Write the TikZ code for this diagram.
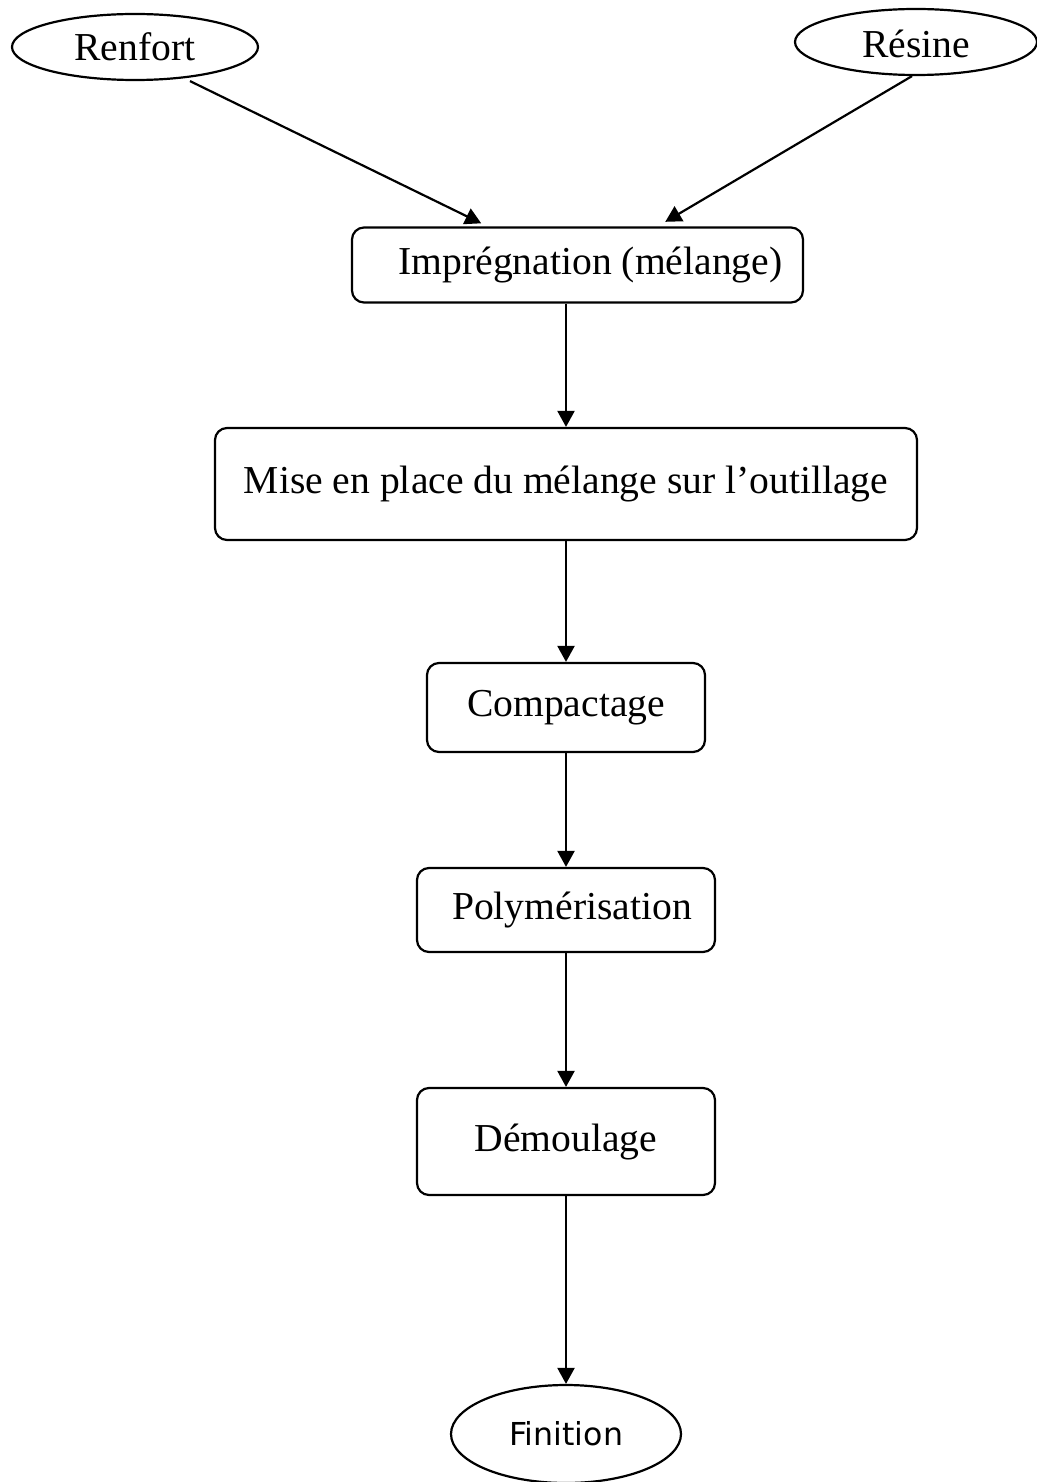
\documentclass[tikz,border=0pt]{standalone}
\usepackage{fontspec}
\setmainfont{Liberation Serif}
\newfontfamily\finfont{DejaVu Sans}
\usetikzlibrary{arrows.meta,shapes.geometric}

\begin{document}
\begin{tikzpicture}[x=0.5pt,y=-0.5pt,->,>={Triangle[length=8pt,width=8.5pt]},line width=1.1pt,
                    stage node/.style={rectangle,rounded corners=6pt,draw,inner sep=0pt,font=\fontsize{19.8}{23}\selectfont},
                    end node/.style={ellipse,draw,inner sep=0pt,font=\fontsize{19.8}{23}\selectfont}]
  \useasboundingbox (0,0) rectangle (1037,1482);
  \node[end node,minimum width=123pt,minimum height=33pt] (renfort) at (135,47) {Renfort};
  \node[end node,minimum width=121pt,minimum height=33pt] (resine) at (916,42) {\raisebox{-8pt}[0pt][0pt]{Résine}};
  \node[stage node,minimum width=225.5pt,minimum height=37.5pt] (impr) at (577.5,265) {\hspace{13pt}Imprégnation (mélange)};
  \node[stage node,minimum width=351pt,minimum height=56pt] (mise) at (566,484) {Mise en place du mélange sur l’outillage};
  \node[stage node,minimum width=139pt,minimum height=44.5pt] (compact) at (566,707.5) {Compactage};
  \node[stage node,minimum width=149pt,minimum height=42pt] (polym) at (566,910) {\hspace{6pt}Polymérisation};
  \node[stage node,minimum width=149pt,minimum height=53.5pt] (demoul) at (566,1141.5) {Démoulage};
  \node[end node,minimum width=115pt,minimum height=49pt,font=\finfont\fontsize{15.8}{19}\selectfont] (finition) at (566,1434) {Finition};

  \path
    ([xshift=27.5pt]renfort.south) edge[shorten >=3.5pt] ([xshift=-45pt]impr.north)
    ([xshift=-2pt]resine.south) edge[shorten >=4.5pt] ([xshift=40pt]impr.north)
    (impr.south -| mise.north) edge (mise.north)
    (mise.south) edge (compact.north)
    (compact.south) edge (polym.north)
    (polym.south) edge (demoul.north)
    (demoul.south) edge (finition.north);
\end{tikzpicture}
\end{document}
